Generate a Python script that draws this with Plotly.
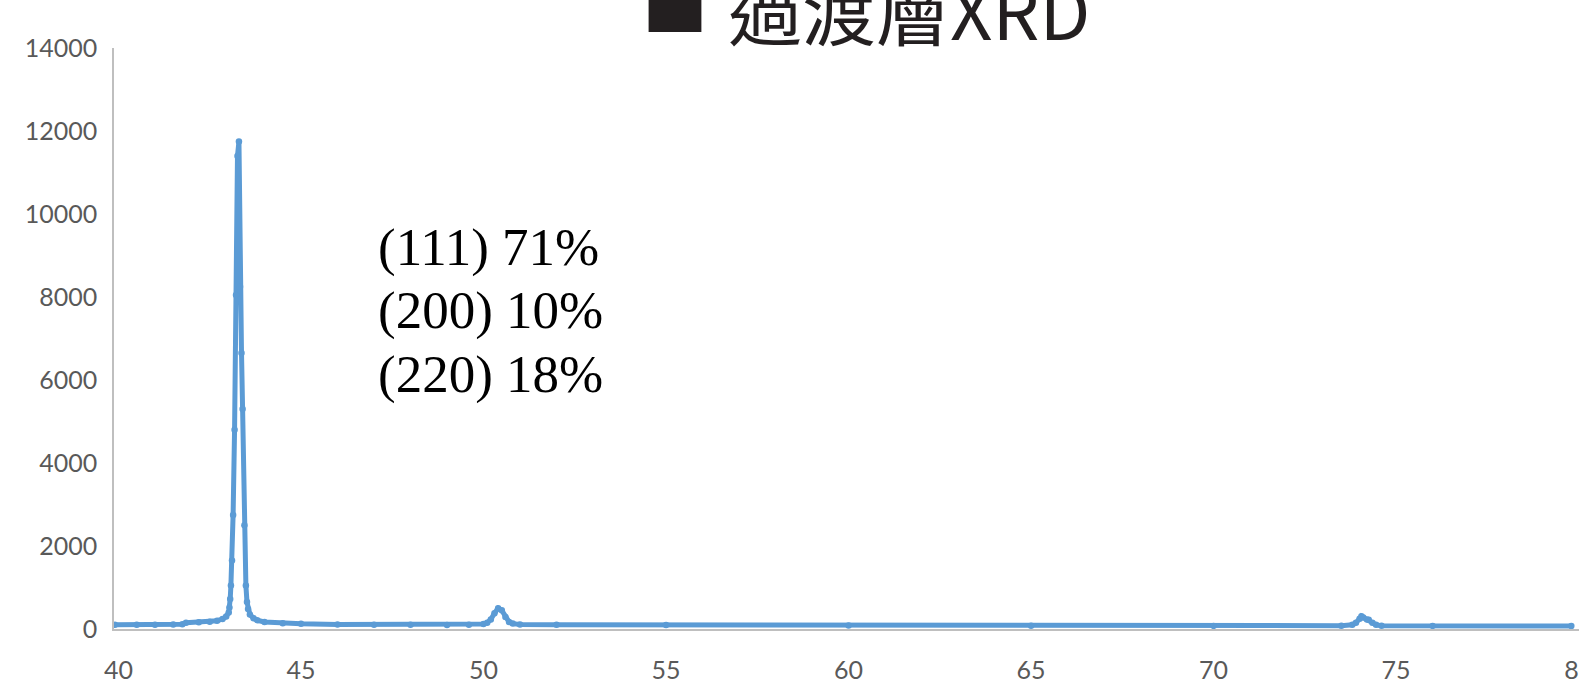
import plotly.graph_objects as go

# ---- data ----
two_theta = [39.9, 40.5, 41.0, 41.5, 41.75, 41.85, 42.2, 42.5, 42.7, 42.85, 42.95,
             43.02, 43.04, 43.06, 43.08, 43.11, 43.14, 43.18, 43.22, 43.26, 43.30,
             43.33, 43.37, 43.40, 43.45, 43.49, 43.52, 43.55, 43.60, 43.70, 43.80,
             44.0, 44.5, 45.0, 46.0, 47.0, 48.0, 49.0, 49.6, 50.0, 50.1, 50.2, 50.3,
             50.4, 50.5, 50.6, 50.7, 50.8, 51.0, 52.0, 55.0, 60.0, 65.0, 70.0, 73.5,
             73.8, 73.9, 74.0, 74.05, 74.1, 74.2, 74.25, 74.35, 74.45, 74.6, 76.0, 79.8]
intensity = [100, 105, 100, 110, 115, 150, 160, 175, 200, 240, 300,
             400, 520, 720, 1050, 1650, 2750, 4800, 8050, 11400, 11750,
             8250, 6650, 5300, 2500, 1050, 650, 480, 350, 260, 210,
             170, 140, 125, 110, 105, 100, 95, 100, 120, 150, 230, 380,
             500, 450, 290, 170, 130, 110, 100, 95, 85, 80, 75, 80,
             100, 150, 250, 310, 280, 230, 220, 150, 100, 80, 75, 70]

x_ticks = [40, 45, 50, 55, 60, 65, 70, 75, 80]
y_ticks = [0, 2000, 4000, 6000, 8000, 10000, 12000, 14000]

title_mark = "■"
title_text = "過渡層XRD"
note_lines = ["(111) 71%", "(200) 10%", "(220) 18%"]

# ---- layout geometry ----
W, H = 1579, 683
L, R, T, B = 114, 0, 48, 54
plot_w = W - L - R
plot_h = H - T - B

def px(xpix):
    return (xpix - L) / plot_w

def py(ypix):
    return (H - B - ypix) / plot_h

fig = go.Figure()
fig.add_trace(go.Scatter(
    x=two_theta, y=intensity, mode="lines+markers",
    line=dict(color="#5B9BD5", width=5),
    marker=dict(color="#5B9BD5", size=6.5),
    showlegend=False, hoverinfo="skip",
))

annotations = [
    dict(text=title_mark, xref="paper", yref="paper", x=px(674.5), y=py(2),
         xanchor="center", yanchor="middle", showarrow=False,
         font=dict(family="Noto Sans CJK TC", size=66, color="#231F20")),
    dict(text=title_text, xref="paper", yref="paper", x=px(909), y=py(7),
         xanchor="center", yanchor="middle", showarrow=False,
         font=dict(family="Noto Sans CJK TC", size=74, color="#231F20")),
]
line_centers = [247.5, 310.5, 374.5]
for txt, yc in zip(note_lines, line_centers):
    annotations.append(dict(
        text=txt, xref="paper", yref="paper", x=px(376), y=py(yc),
        xanchor="left", yanchor="middle", showarrow=False,
        font=dict(family="Liberation Serif, Times New Roman, serif", size=53, color="#000000"),
    ))

fig.update_layout(
    width=W, height=H,
    margin=dict(l=L, r=R, t=T, b=B, pad=0),
    paper_bgcolor="white", plot_bgcolor="white",
    annotations=annotations,
    xaxis=dict(
        range=[39.877, 80.01], tickvals=x_ticks, ticktext=[str(v) for v in x_ticks],
        showgrid=False, zeroline=False, showline=True, linecolor="#BFBFBF", linewidth=1.5,
        ticks="", ticklabelstandoff=18, automargin=False, ticklabeloverflow="allow",
        tickfont=dict(family="Lato", size=25, color="#595959"),
    ),
    yaxis=dict(
        range=[0, 14000], tickvals=y_ticks, ticktext=[str(v) for v in y_ticks],
        showgrid=False, zeroline=False, showline=True, linecolor="#BFBFBF", linewidth=1.5,
        ticks="", ticklabelstandoff=10, automargin=False,
        tickfont=dict(family="Lato", size=25, color="#595959"),
    ),
)

fig.write_html("out.html")
